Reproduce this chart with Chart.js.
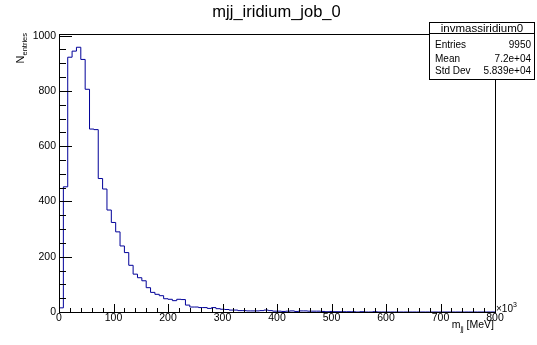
<!DOCTYPE html>
<html>
<head>
<meta charset="utf-8">
<script src="https://cdn.jsdelivr.net/npm/chart.js@4/dist/chart.umd.min.js"></script>
<style>
  html, body { margin: 0; padding: 0; background: #ffffff; }
  #c { display: block; }
</style>
</head>
<body>
<canvas id="c" width="537" height="345"></canvas>
<script>
// ---- data ----
const histTitle = "mjj_iridium_job_0";
const statName = "invmassiridium0";
const statLabels = ["Entries", "Mean", "Std Dev"];
const statValues = ["9950", "7.2e+04", "5.839e+04"];
const binLow = 0;        // x10^3 MeV
const binWidth = 8;      // x10^3 MeV
const binCounts = [
  15, 453, 922, 944, 958, 914, 806, 662, 660, 483,
  445, 369, 324, 290, 239, 215, 169, 137, 124, 113,
  88, 71, 64, 59, 48, 46, 41, 46, 45, 25,
  18, 18, 16, 16, 13, 16, 12, 10, 9, 7,
  7, 5, 5, 4, 4, 4, 5, 7, 5, 3,
  3, 2, 3, 4, 2, 4, 4, 3, 3, 3,
  2, 1, 2, 1, 1, 1, 1, 1, 0, 1,
  0, 0, 1, 0, 0, 0, 0, 0, 0, 0,
  0, 0, 0, 0, 0, 0, 0, 0, 0, 0,
  0, 0, 0, 0, 0, 0, 0, 0, 0, 0
];
const xTicks = [0, 100, 200, 300, 400, 500, 600, 700, 800];
const yTicks = [0, 200, 400, 600, 800, 1000];
const xMinorStep = 20;
const yMinorStep = 50;
const xMax = 800;
const yMax = 1006;

// step-line points: each bin's low edge, plus the upper edge of the last bin
const points = binCounts.map((v, i) => ({ x: binLow + i * binWidth, y: v }));
points.push({ x: binLow + binCounts.length * binWidth, y: binCounts[binCounts.length - 1] });

const FONT = "'Liberation Sans', Arial, Helvetica, sans-serif";

const rootStyle = {
  id: 'rootStyle',
  afterDatasetsDraw(chart) {
    const ctx = chart.ctx;
    const xs = chart.scales.x, ys = chart.scales.y;
    const L = Math.round(xs.left), R = Math.round(xs.right);
    const T = Math.round(ys.top), B = Math.round(ys.bottom);
    ctx.save();
    ctx.strokeStyle = '#000';
    ctx.lineWidth = 1;
    // frame
    ctx.strokeRect(L + 0.5, T + 0.5, R - L, B - T);
    // y ticks (inside)
    ctx.beginPath();
    for (let v = 0; v <= yMax; v += yMinorStep) {
      const py = Math.round(ys.getPixelForValue(v)) + 0.5;
      const major = yTicks.includes(v);
      ctx.moveTo(L, py);
      ctx.lineTo(L + (major ? 13 : 7), py);
    }
    // x ticks (inside)
    for (let v = 0; v <= xMax; v += xMinorStep) {
      const px = Math.round(xs.getPixelForValue(v)) + 0.5;
      const major = xTicks.includes(v);
      ctx.moveTo(px, B + 0.5);
      ctx.lineTo(px, B - (major ? 8 : 4));
    }
    ctx.stroke();

    ctx.fillStyle = '#000';
    // title
    ctx.font = "16.5px " + FONT;
    ctx.textAlign = 'center';
    ctx.textBaseline = 'alphabetic';
    ctx.fillText(histTitle, 276.5, 16.5);

    // x axis title: m_jj [MeV]
    ctx.textAlign = 'left';
    const f1 = "10.5px " + FONT, f2 = "7px " + FONT;
    ctx.font = f1; const wm = ctx.measureText("m").width;
    const wunit = ctx.measureText(" [MeV]").width;
    ctx.font = f2; const wjj = ctx.measureText("jj").width;
    let x0 = R - 1 - (wm + wjj + wunit);
    ctx.font = f1; ctx.fillText("m", x0, 328);
    ctx.font = f2; ctx.fillText("jj", x0 + wm, 331);
    ctx.font = f1; ctx.fillText(" [MeV]", x0 + wm + wjj, 328);

    // x10^3
    ctx.font = "10px " + FONT;
    const wx = ctx.measureText("\u00d710").width;
    ctx.fillText("\u00d710", R + 1, 312);
    ctx.font = "7px " + FONT;
    ctx.fillText("3", R + 1 + wx, 307);

    // y axis title: N_entries (rotated)
    ctx.save();
    ctx.translate(24, 0);
    ctx.rotate(-Math.PI / 2);
    const g1 = "11px " + FONT, g2 = "7.5px " + FONT;
    ctx.font = g1; const wN = ctx.measureText("N").width;
    ctx.font = g2; const wE = ctx.measureText("entries").width;
    const yEnd = 33;
    const u0 = -(yEnd + wN + wE);
    ctx.font = g1; ctx.fillText("N", u0, 0);
    ctx.font = g2; ctx.fillText("entries", u0 + wN, 2.5);
    ctx.restore();

    // stat box
    const bx0 = 429.5, by0 = 22.5, bx1 = 534.5, by1 = 79.5;
    ctx.fillStyle = '#fff';
    ctx.fillRect(bx0, by0, bx1 - bx0, by1 - by0);
    ctx.strokeRect(bx0, by0, bx1 - bx0, by1 - by0);
    ctx.beginPath();
    ctx.moveTo(bx0, 33.5); ctx.lineTo(bx1, 33.5);
    ctx.stroke();
    ctx.fillStyle = '#000';
    ctx.font = "11.5px " + FONT;
    ctx.textAlign = 'center';
    ctx.fillText(statName, (bx0 + bx1) / 2, 31.5);
    ctx.font = "10px " + FONT;
    const rowY = [48, 61.5, 74];
    statLabels.forEach((lab, i) => {
      ctx.textAlign = 'left';
      ctx.fillText(lab, 435, rowY[i]);
      ctx.textAlign = 'right';
      ctx.fillText(statValues[i], 531, rowY[i]);
    });
    ctx.restore();
  }
};

new Chart(document.getElementById('c'), {
  type: 'line',
  data: {
    datasets: [{
      data: points,
      stepped: true,
      borderColor: '#000099',
      borderWidth: 1,
      pointRadius: 0,
      fill: false,
      tension: 0
    }]
  },
  options: {
    responsive: false,
    animation: false,
    devicePixelRatio: 1,
    layout: { padding: { left: 0, right: 42, top: 34, bottom: 0 } },
    plugins: { legend: { display: false }, tooltip: { enabled: false }, title: { display: false } },
    scales: {
      x: {
        type: 'linear', min: 0, max: xMax,
        grid: { display: false, drawTicks: false },
        border: { display: false },
        afterBuildTicks: s => { s.ticks = xTicks.map(v => ({ value: v })); },
        afterFit: s => { s.height = 33; },
        ticks: {
          padding: 0, autoSkip: false, maxRotation: 0, color: '#000',
          font: { family: FONT, size: 10.5 },
          callback: v => String(v)
        }
      },
      y: {
        type: 'linear', min: 0, max: yMax,
        grid: { display: false, drawTicks: false },
        border: { display: false },
        afterBuildTicks: s => { s.ticks = yTicks.map(v => ({ value: v })); },
        afterFit: s => { s.width = 59; },
        ticks: {
          padding: 3, autoSkip: false, color: '#000',
          font: { family: FONT, size: 10.5 },
          callback: v => String(v)
        }
      }
    }
  },
  plugins: [rootStyle]
});
</script>
</body>
</html>
